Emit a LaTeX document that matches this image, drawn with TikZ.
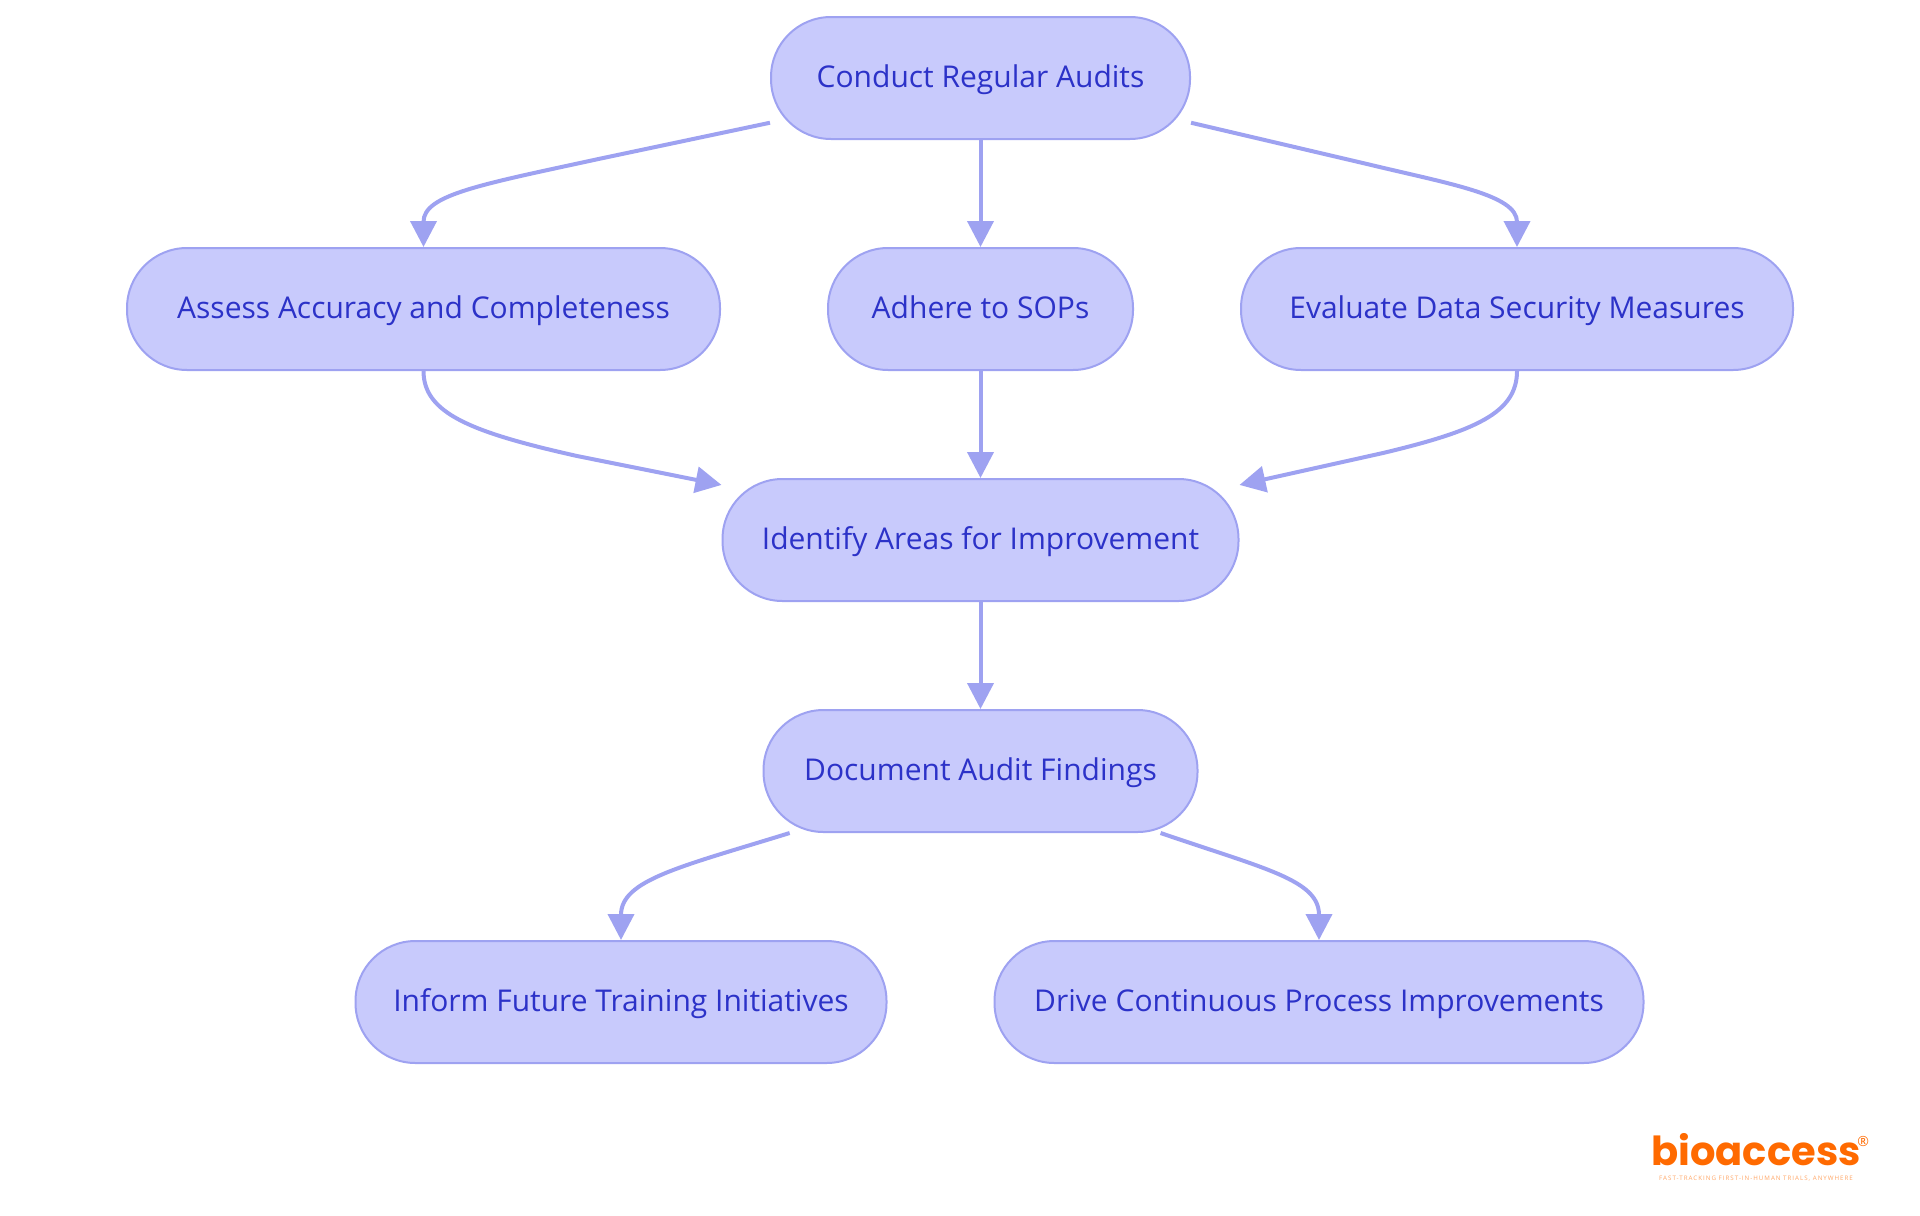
\documentclass[tikz,border=0pt]{standalone}
\usepackage{fontspec}
\setmainfont{Open Sans}
\newfontfamily\logofont{Poppins}
\newfontfamily\tagfont[LetterSpace=16]{Open Sans}
\usetikzlibrary{arrows.meta}

\definecolor{stepfill}{HTML}{C8CAFC}
\definecolor{stepline}{HTML}{9EA2F1}
\definecolor{steptext}{HTML}{2C32C8}
\definecolor{logoorange}{HTML}{FF6A00}

\begin{document}
\begin{tikzpicture}[x=1pt, y=1pt, node distance=115.5pt]

\tikzstyle{box} = [rectangle, draw=stepline, fill=stepfill, text=steptext, line width=1pt, font=\fontsize{15}{17}\selectfont, text centered, rounded corners=30pt, minimum height=61pt, text height=12.2pt, text depth=3pt, inner xsep=0pt]
\tikzstyle{link} = [draw=stepline, line width=2pt, -{Triangle[length=13pt, width=13pt]}]

\useasboundingbox (0,0) rectangle (960,-607.5);

% Nodes
\node[box, minimum width=209.5pt] (audits) at (490.25,-39) {Conduct Regular Audits};
\node[box, minimum width=152.5pt, below of=audits] (sops) {Adhere to SOPs};
\node[box, minimum width=296.5pt, below of=audits, xshift=-278.5pt] (accuracy) {Assess Accuracy and Completeness};
\node[box, minimum width=276pt, below of=audits, xshift=268.25pt] (security) {Evaluate Data Security Measures};
\node[box, minimum width=258pt, below of=sops] (areas) {Identify Areas for Improvement};
\node[box, minimum width=217pt, below of=areas] (findings) {Document Audit Findings};
\node[box, minimum width=265.5pt, below of=findings, xshift=-179.75pt] (training) {Inform Future Training Initiatives};
\node[box, minimum width=324.5pt, below of=findings, xshift=169.25pt] (process) {Drive Continuous Process Improvements};

% Logo
\node[text=logoorange, font=\logofont\bfseries\fontsize{20}{22}\selectfont, inner sep=0pt] (logo) at (878,-575) {bioaccess};
\node[text=logoorange, font=\fontsize{7}{8}\selectfont, inner sep=0pt, right=-2pt] (regmark) at ([yshift=-4pt]logo.north east) {®};
\node[text=logoorange, opacity=0.6, font=\tagfont\fontsize{3.1}{4}\selectfont, inner sep=0pt, below=4.5pt] (tagline) at (logo.south) {FAST-TRACKING FIRST-IN-HUMAN TRIALS, ANYWHERE};

% Lines
\draw[link] (audits.192.2) -- +(-85.85,-18.15) .. controls +(-60,-13) and +(0,26) .. (accuracy.north);
\draw[link] (audits) -- (sops);
\draw[link] (audits.-12.6) -- +(88.5,-20.75) .. controls +(41.5,-10) and +(0,26) .. (security.north);
\draw[link] (accuracy.south) .. controls +(0,-21) and +(-53.5,12) .. +(76.75,-42.5) -- (areas.168.4);
\draw[link] (sops) -- (areas);
\draw[link] (security.south) .. controls +(0,-21) and +(46,11) .. +(-67,-41) -- (areas.12.2);
\draw[link] (areas) -- (findings);
\draw[link] (findings.198.9) .. controls +(-55,-17) and +(0,30) .. (training.north);
\draw[link] (findings.-19.85) .. controls +(52.5,-18) and +(0,30) .. (process.north);

\end{tikzpicture}
\end{document}
